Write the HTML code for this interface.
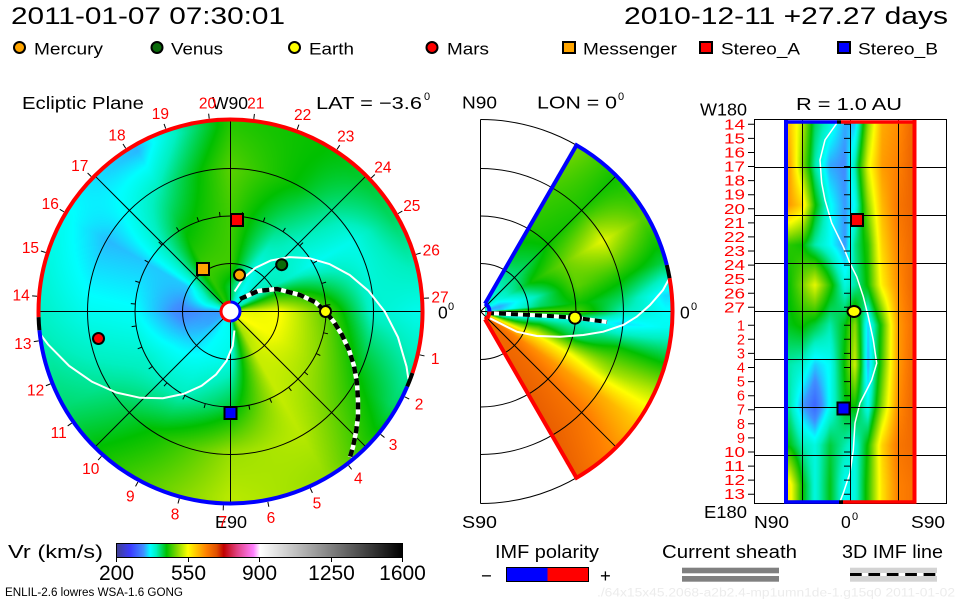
<!DOCTYPE html>
<html><head><meta charset="utf-8"><style>
html,body{margin:0;padding:0;background:#fff}
#w{position:relative;width:960px;height:600px;overflow:hidden;background:#fff}
#w svg,#w canvas{position:absolute;left:0;top:0}
</style></head><body><div id="w">
<svg width="960" height="600" xmlns="http://www.w3.org/2000/svg">
<defs>
<linearGradient id="wg" x1="0" y1="0" x2="0" y2="1"><stop offset="0" stop-color="#40c800"/><stop offset="0.4" stop-color="#60d000"/><stop offset="0.5" stop-color="#20f0d0"/><stop offset="0.6" stop-color="#40d000"/><stop offset="0.75" stop-color="#ffa000"/><stop offset="1" stop-color="#e04800"/></linearGradient>
<linearGradient id="rg" x1="0" y1="0" x2="1" y2="0"><stop offset="0" stop-color="#a0d000"/><stop offset="0.4" stop-color="#20e8c0"/><stop offset="0.6" stop-color="#30d080"/><stop offset="0.8" stop-color="#ffa000"/><stop offset="1" stop-color="#e05000"/></linearGradient>
</defs>
<circle cx="230.5" cy="311.5" r="192" fill="#30e0b0"/>
<path d="M485,303.7 L576.5,145.2 A192 192 0 0 1 576.5,477.8 L485,319.3 Z" fill="url(#wg)"/>
<rect x="786" y="121" width="128" height="381" fill="url(#rg)"/>
</svg>
<canvas id="cv" width="960" height="600"></canvas>
<svg width="960" height="600" xmlns="http://www.w3.org/2000/svg" font-family="'Liberation Sans', sans-serif">
<defs>
<linearGradient id="cb" x1="0" y1="0" x2="1" y2="0">
<stop offset="0" stop-color="#404090"/><stop offset="0.0486" stop-color="#3c3cff"/><stop offset="0.095" stop-color="#4090ff"/><stop offset="0.1186" stop-color="#00ffff"/><stop offset="0.139" stop-color="#00f0c0"/><stop offset="0.175" stop-color="#00c000"/><stop offset="0.211" stop-color="#80d800"/><stop offset="0.25" stop-color="#ffff00"/><stop offset="0.282" stop-color="#ffc000"/><stop offset="0.314" stop-color="#ff8000"/><stop offset="0.35" stop-color="#e05000"/><stop offset="0.375" stop-color="#c00000"/><stop offset="0.421" stop-color="#e04080"/><stop offset="0.479" stop-color="#ff80ff"/><stop offset="0.502" stop-color="#ffffff"/><stop offset="1" stop-color="#000000"/>
</linearGradient>
</defs>

<!-- Titles -->
<text x="11" y="24" font-size="24" textLength="274" lengthAdjust="spacingAndGlyphs">2011-01-07 07:30:01</text>
<text x="624" y="24" font-size="24" textLength="324" lengthAdjust="spacingAndGlyphs">2010-12-11 +27.27 days</text>

<!-- Legend -->
<g stroke="#000" stroke-width="2">
<circle cx="19.5" cy="47.5" r="5.5" fill="#ffa500"/>
<circle cx="157" cy="47.5" r="5.5" fill="#0a6a0a"/>
<circle cx="294.5" cy="47.5" r="5.5" fill="#ffff00"/>
<circle cx="432" cy="47.5" r="5.5" fill="#ff0000"/>
<rect x="563" y="42" width="12" height="11" fill="#ffa500"/>
<rect x="700" y="42" width="12" height="11" fill="#ff0000"/>
<rect x="838" y="42" width="12" height="11" fill="#0000ff"/>
</g>
<g font-size="17">
<text x="34" y="54.3" textLength="69" lengthAdjust="spacingAndGlyphs">Mercury</text>
<text x="171" y="54.3" textLength="52" lengthAdjust="spacingAndGlyphs">Venus</text>
<text x="309" y="54.3" textLength="45" lengthAdjust="spacingAndGlyphs">Earth</text>
<text x="447" y="54.3" textLength="42" lengthAdjust="spacingAndGlyphs">Mars</text>
<text x="583" y="54.3" textLength="94" lengthAdjust="spacingAndGlyphs">Messenger</text>
<text x="721" y="54.3" textLength="79" lengthAdjust="spacingAndGlyphs">Stereo_A</text>
<text x="858" y="54.3" textLength="80" lengthAdjust="spacingAndGlyphs">Stereo_B</text>
</g>

<!-- Panel headings -->
<g font-size="17.5">
<text x="22" y="109" textLength="122" lengthAdjust="spacingAndGlyphs">Ecliptic Plane</text>
<text x="212" y="109" textLength="36" lengthAdjust="spacingAndGlyphs">W90</text>
<text x="316" y="109" textLength="106" lengthAdjust="spacingAndGlyphs">LAT = −3.6</text>
<text x="462" y="108.5" textLength="35" lengthAdjust="spacingAndGlyphs">N90</text>
<text x="537" y="108.5" textLength="80" lengthAdjust="spacingAndGlyphs">LON = 0</text>
<text x="700" y="115.5" textLength="47" lengthAdjust="spacingAndGlyphs">W180</text>
<text x="796" y="110" textLength="106" lengthAdjust="spacingAndGlyphs">R = 1.0 AU</text>
<text x="215" y="528" textLength="32" lengthAdjust="spacingAndGlyphs">E90</text>
<text x="462" y="528" textLength="35" lengthAdjust="spacingAndGlyphs">S90</text>
<text x="704" y="518" textLength="43" lengthAdjust="spacingAndGlyphs">E180</text>
<text x="754" y="528" textLength="35" lengthAdjust="spacingAndGlyphs">N90</text>
<text x="841" y="528">0</text>
<text x="911" y="528" textLength="34" lengthAdjust="spacingAndGlyphs">S90</text>
<text x="438" y="318.5">0</text>
<text x="680" y="318.5">0</text>
</g>
<g font-size="11">
<text x="424" y="100">0</text>
<text x="618" y="100">0</text>
<text x="852" y="520">0</text>
<text x="448" y="310">0</text>
<text x="691" y="310">0</text>
</g>

<!-- LEFT PANEL grid -->
<g stroke="#000" stroke-width="1" fill="none">
<circle cx="230.5" cy="311.5" r="48"/>
<circle cx="230.5" cy="311.5" r="95.5"/>
<circle cx="230.5" cy="311.5" r="143"/>
<line x1="38" y1="311.5" x2="423" y2="311.5"/>
<line x1="230.5" y1="119" x2="230.5" y2="504"/>
<line x1="94.7" y1="175.7" x2="366.3" y2="447.3"/>
<line x1="94.7" y1="447.3" x2="366.3" y2="175.7"/>
</g>
<!-- current sheet (white) -->
<g stroke="#fff" stroke-width="2" fill="none">
<polyline points="234.6,291.5 243.1,278.5 255.4,267.9 270.9,260.5 289.1,257.1 308.9,258.1 329.4,264 349.7,275 368.6,291 385,311.9 398,337.3 406.5,366.5 408.4,379.1"/>
<polyline points="234.4,330.5 232.7,345.9 226.5,360.9 216,374.5 201.6,385.8 183.6,393.9 162.9,398.2 140.1,397.8 116.2,392.5 92.1,381.8 69.1,365.8 48,344.4 40.4,334.3"/>
</g>
<!-- IMF line -->
<polyline points="240,299 258,291 277,289 300,295 315,302 325,311 334,322 342,335 349,350 354,366 357,383 358,400 358,417 356,432 353,447 350,457" fill="none" stroke="#fff" stroke-width="4.5"/>
<polyline points="240,299 258,291 277,289 300,295 315,302 325,311 334,322 342,335 349,350 354,366 357,383 358,400 358,417 356,432 353,447 350,457" fill="none" stroke="#000" stroke-width="4.5" stroke-dasharray="7 5"/>
<!-- ticks -->
<g transform="translate(230.5,311.5)" stroke="#000" stroke-width="1">
<line x1="95.5" y1="0" x2="100" y2="0" transform="rotate(12.9)"/><line x1="194" y1="0" x2="199" y2="0" transform="rotate(12.9)"/>
<line x1="95.5" y1="0" x2="100" y2="0" transform="rotate(26.1)"/><line x1="194" y1="0" x2="199" y2="0" transform="rotate(26.1)"/>
<line x1="95.5" y1="0" x2="100" y2="0" transform="rotate(39.3)"/><line x1="194" y1="0" x2="199" y2="0" transform="rotate(39.3)"/>
<line x1="95.5" y1="0" x2="100" y2="0" transform="rotate(52.5)"/><line x1="194" y1="0" x2="199" y2="0" transform="rotate(52.5)"/>
<line x1="95.5" y1="0" x2="100" y2="0" transform="rotate(65.7)"/><line x1="194" y1="0" x2="199" y2="0" transform="rotate(65.7)"/>
<line x1="95.5" y1="0" x2="100" y2="0" transform="rotate(78.9)"/><line x1="194" y1="0" x2="199" y2="0" transform="rotate(78.9)"/>
<line x1="95.5" y1="0" x2="100" y2="0" transform="rotate(92.1)"/><line x1="194" y1="0" x2="199" y2="0" transform="rotate(92.1)"/>
<line x1="95.5" y1="0" x2="100" y2="0" transform="rotate(105.3)"/><line x1="194" y1="0" x2="199" y2="0" transform="rotate(105.3)"/>
<line x1="95.5" y1="0" x2="100" y2="0" transform="rotate(118.5)"/><line x1="194" y1="0" x2="199" y2="0" transform="rotate(118.5)"/>
<line x1="95.5" y1="0" x2="100" y2="0" transform="rotate(131.7)"/><line x1="194" y1="0" x2="199" y2="0" transform="rotate(131.7)"/>
<line x1="95.5" y1="0" x2="100" y2="0" transform="rotate(144.9)"/><line x1="194" y1="0" x2="199" y2="0" transform="rotate(144.9)"/>
<line x1="95.5" y1="0" x2="100" y2="0" transform="rotate(158.1)"/><line x1="194" y1="0" x2="199" y2="0" transform="rotate(158.1)"/>
<line x1="95.5" y1="0" x2="100" y2="0" transform="rotate(171.3)"/><line x1="194" y1="0" x2="199" y2="0" transform="rotate(171.3)"/>
<line x1="95.5" y1="0" x2="100" y2="0" transform="rotate(184.5)"/><line x1="194" y1="0" x2="199" y2="0" transform="rotate(184.5)"/>
<line x1="95.5" y1="0" x2="100" y2="0" transform="rotate(197.7)"/><line x1="194" y1="0" x2="199" y2="0" transform="rotate(197.7)"/>
<line x1="95.5" y1="0" x2="100" y2="0" transform="rotate(210.9)"/><line x1="194" y1="0" x2="199" y2="0" transform="rotate(210.9)"/>
<line x1="95.5" y1="0" x2="100" y2="0" transform="rotate(224.1)"/><line x1="194" y1="0" x2="199" y2="0" transform="rotate(224.1)"/>
<line x1="95.5" y1="0" x2="100" y2="0" transform="rotate(237.3)"/><line x1="194" y1="0" x2="199" y2="0" transform="rotate(237.3)"/>
<line x1="95.5" y1="0" x2="100" y2="0" transform="rotate(250.5)"/><line x1="194" y1="0" x2="199" y2="0" transform="rotate(250.5)"/>
<line x1="95.5" y1="0" x2="100" y2="0" transform="rotate(263.7)"/><line x1="194" y1="0" x2="199" y2="0" transform="rotate(263.7)"/>
<line x1="95.5" y1="0" x2="100" y2="0" transform="rotate(276.9)"/><line x1="194" y1="0" x2="199" y2="0" transform="rotate(276.9)"/>
<line x1="95.5" y1="0" x2="100" y2="0" transform="rotate(290.1)"/><line x1="194" y1="0" x2="199" y2="0" transform="rotate(290.1)"/>
<line x1="95.5" y1="0" x2="100" y2="0" transform="rotate(303.3)"/><line x1="194" y1="0" x2="199" y2="0" transform="rotate(303.3)"/>
<line x1="95.5" y1="0" x2="100" y2="0" transform="rotate(316.5)"/><line x1="194" y1="0" x2="199" y2="0" transform="rotate(316.5)"/>
<line x1="95.5" y1="0" x2="100" y2="0" transform="rotate(329.7)"/><line x1="194" y1="0" x2="199" y2="0" transform="rotate(329.7)"/>
<line x1="95.5" y1="0" x2="100" y2="0" transform="rotate(342.9)"/><line x1="194" y1="0" x2="199" y2="0" transform="rotate(342.9)"/>
<line x1="95.5" y1="0" x2="100" y2="0" transform="rotate(356.1)"/><line x1="194" y1="0" x2="199" y2="0" transform="rotate(356.1)"/>
</g>
<!-- outer border -->
<g fill="none" stroke-width="4">
<path d="M38.6,317.2 A192 192 0 1 1 412.4,373.1" stroke="#ff0000"/>
<path d="M412.4,373.1 A192 192 0 0 1 407.2,386.5" stroke="#000"/>
<path d="M407.2,386.5 A192 192 0 0 1 39.4,330.2" stroke="#0000ff"/>
<path d="M39.4,330.2 A192 192 0 0 1 38.6,317.2" stroke="#000"/>
</g>
<!-- sun -->
<circle cx="230.5" cy="311.5" r="9.5" fill="#fff"/>
<path d="M230.5,302 A9.5 9.5 0 0 0 230.5,321" fill="none" stroke="#ff0000" stroke-width="3"/>
<path d="M230.5,302 A9.5 9.5 0 0 1 230.5,321" fill="none" stroke="#0000ff" stroke-width="3"/>
<!-- bodies -->
<g stroke="#000" stroke-width="2">
<rect x="231" y="214" width="12" height="12" fill="#ff0000"/>
<rect x="197" y="263" width="12" height="12" fill="#ffa500"/>
<circle cx="239.5" cy="275" r="5.5" fill="#ffa500"/>
<circle cx="281.7" cy="264.7" r="5.5" fill="#0a6a0a"/>
<circle cx="325.5" cy="311.5" r="5.5" fill="#ffff00"/>
<circle cx="98.5" cy="338.5" r="5.5" fill="#ff0000"/>
<rect x="224.5" y="407" width="12" height="12" fill="#0000ff"/>
</g>
<!-- day labels -->
<g transform="translate(230.5,311.5)" font-size="15.5" fill="#ff0000" text-anchor="middle">
<text transform="rotate(12.9) translate(210,0) rotate(-12.9)" dy="5.5">1</text>
<text transform="rotate(26.1) translate(210,0) rotate(-26.1)" dy="5.5">2</text>
<text transform="rotate(39.3) translate(210,0) rotate(-39.3)" dy="5.5">3</text>
<text transform="rotate(52.5) translate(210,0) rotate(-52.5)" dy="5.5">4</text>
<text transform="rotate(65.7) translate(210,0) rotate(-65.7)" dy="5.5">5</text>
<text transform="rotate(78.9) translate(210,0) rotate(-78.9)" dy="5.5">6</text>
<text transform="rotate(92.1) translate(210,0) rotate(-92.1)" dy="5.5">7</text>
<text transform="rotate(105.3) translate(210,0) rotate(-105.3)" dy="5.5">8</text>
<text transform="rotate(118.5) translate(210,0) rotate(-118.5)" dy="5.5">9</text>
<text transform="rotate(131.7) translate(210,0) rotate(-131.7)" dy="5.5">10</text>
<text transform="rotate(144.9) translate(210,0) rotate(-144.9)" dy="5.5">11</text>
<text transform="rotate(158.1) translate(210,0) rotate(-158.1)" dy="5.5">12</text>
<text transform="rotate(171.3) translate(210,0) rotate(-171.3)" dy="5.5">13</text>
<text transform="rotate(184.5) translate(210,0) rotate(-184.5)" dy="5.5">14</text>
<text transform="rotate(197.7) translate(210,0) rotate(-197.7)" dy="5.5">15</text>
<text transform="rotate(210.9) translate(210,0) rotate(-210.9)" dy="5.5">16</text>
<text transform="rotate(224.1) translate(210,0) rotate(-224.1)" dy="5.5">17</text>
<text transform="rotate(237.3) translate(210,0) rotate(-237.3)" dy="5.5">18</text>
<text transform="rotate(250.5) translate(210,0) rotate(-250.5)" dy="5.5">19</text>
<text transform="rotate(263.7) translate(210,0) rotate(-263.7)" dy="5.5">20</text>
<text transform="rotate(276.9) translate(210,0) rotate(-276.9)" dy="5.5">21</text>
<text transform="rotate(290.1) translate(210,0) rotate(-290.1)" dy="5.5">22</text>
<text transform="rotate(303.3) translate(210,0) rotate(-303.3)" dy="5.5">23</text>
<text transform="rotate(316.5) translate(210,0) rotate(-316.5)" dy="5.5">24</text>
<text transform="rotate(329.7) translate(210,0) rotate(-329.7)" dy="5.5">25</text>
<text transform="rotate(342.9) translate(210,0) rotate(-342.9)" dy="5.5">26</text>
<text transform="rotate(356.1) translate(210,0) rotate(-356.1)" dy="5.5">27</text>
</g>

<!-- MIDDLE PANEL -->
<g stroke="#000" stroke-width="1" fill="none">
<path d="M480.5,263.5 A48 48 0 0 1 480.5,359.5"/>
<path d="M480.5,216 A95.5 95.5 0 0 1 480.5,407"/>
<path d="M480.5,168.5 A143 143 0 0 1 480.5,454.5"/>
<path d="M480.5,119.5 A192 192 0 0 1 480.5,503.5"/>
<line x1="480.5" y1="119.5" x2="480.5" y2="503.5"/>
<line x1="480.5" y1="311.5" x2="672.5" y2="311.5"/>
<line x1="480.5" y1="311.5" x2="616.3" y2="175.7"/>
<line x1="480.5" y1="311.5" x2="616.3" y2="447.3"/>
</g>
<polyline points="669.3,278.3 663,290 650,305 636.7,316.7 623.3,325 603.3,331.7 583.3,335 560,336.7 536.7,336 516.7,331.7 500,323.3 490,318.3" fill="none" stroke="#fff" stroke-width="2"/>
<polyline points="487,313 520,314.5 550,316 575,317.7 592,320 607,322" fill="none" stroke="#fff" stroke-width="4"/>
<polyline points="487,313 520,314.5 550,316 575,317.7 592,320 607,322" fill="none" stroke="#000" stroke-width="4" stroke-dasharray="7 5"/>
<g fill="none" stroke-width="4">
<path d="M485,303.7 L576.5,145.2 A192 192 0 0 1 666.8,265.05" stroke="#0000ff"/>
<path d="M666.8,265.05 A192 192 0 0 1 669.6,278.2" stroke="#000"/>
<path d="M669.6,278.2 A192 192 0 0 1 576.5,477.8 L485,319.3" stroke="#ff0000"/>
<path d="M485,303.7 A9 9 0 0 1 489.5,311.5" stroke="#0000ff"/>
<path d="M489.5,311.5 A9 9 0 0 1 485,319.3" stroke="#ff0000"/>
</g>
<circle cx="575" cy="317.7" r="6" fill="#ffff00" stroke="#000" stroke-width="2"/>

<!-- RIGHT PANEL -->
<polyline points="836.7,123.3 825,140 820,160 821.7,183 825,200 831.7,223 843.3,246.7 850,263.3 856.7,276.7 863.3,296.7 868.3,316.7 873.3,340 876.7,363.3 871.7,380 866.7,390 860,403 855,423 853.3,450 850,473 843.3,493 840,501.7" fill="none" stroke="#fff" stroke-width="1.5"/>
<g stroke="#000" stroke-width="1" fill="none">
<rect x="754.5" y="119.5" width="192" height="384"/>
<line x1="802.5" y1="119.5" x2="802.5" y2="503.5"/>
<line x1="850.5" y1="119.5" x2="850.5" y2="503.5"/>
<line x1="898.5" y1="119.5" x2="898.5" y2="503.5"/>
<line x1="754.5" y1="167.5" x2="946.5" y2="167.5"/>
<line x1="754.5" y1="215.5" x2="946.5" y2="215.5"/>
<line x1="754.5" y1="263.5" x2="946.5" y2="263.5"/>
<line x1="754.5" y1="311.5" x2="946.5" y2="311.5"/>
<line x1="754.5" y1="359.5" x2="946.5" y2="359.5"/>
<line x1="754.5" y1="407.5" x2="946.5" y2="407.5"/>
<line x1="754.5" y1="455.5" x2="946.5" y2="455.5"/>
</g>
<g stroke="#000" stroke-width="1">
<path d="M748,124.3h6M748,138.4h6M748,152.5h6M748,166.5h6M748,180.6h6M748,194.7h6M748,208.8h6M748,222.9h6M748,236.9h6M748,251h6M748,265.1h6M748,279.2h6M748,293.3h6M748,307.3h6M748,325.3h6M748,339.3h6M748,353.4h6M748,367.5h6M748,381.6h6M748,395.7h6M748,409.7h6M748,423.8h6M748,437.9h6M748,452h6M748,466.1h6M748,480.1h6M748,494.2h6"/>
<path d="M844,124.3h7M844,138.4h7M844,152.5h7M844,166.5h7M844,180.6h7M844,194.7h7M844,208.8h7M844,222.9h7M844,236.9h7M844,251h7M844,265.1h7M844,279.2h7M844,293.3h7M844,307.3h7M844,325.3h7M844,339.3h7M844,353.4h7M844,367.5h7M844,381.6h7M844,395.7h7M844,409.7h7M844,423.8h7M844,437.9h7M844,452h7M844,466.1h7M844,480.1h7M844,494.2h7"/>
</g>
<g fill="none">
<line x1="786" y1="120" x2="786" y2="503.5" stroke="#0000ff" stroke-width="4"/>
<line x1="914.5" y1="120" x2="914.5" y2="503.5" stroke="#ff0000" stroke-width="4"/>
<line x1="784" y1="122" x2="837" y2="122" stroke="#0000ff" stroke-width="3.5"/>
<line x1="837" y1="122" x2="841" y2="122" stroke="#000" stroke-width="3.5"/>
<line x1="841" y1="122" x2="916.5" y2="122" stroke="#ff0000" stroke-width="3.5"/>
<line x1="784" y1="502" x2="839" y2="502" stroke="#0000ff" stroke-width="3.5"/>
<line x1="839" y1="502" x2="843" y2="502" stroke="#000" stroke-width="3.5"/>
<line x1="843" y1="502" x2="916.5" y2="502" stroke="#ff0000" stroke-width="3.5"/>
</g>
<g stroke="#000" stroke-width="2">
<rect x="851" y="214" width="12" height="12" fill="#ff0000"/>
<ellipse cx="854" cy="311.5" rx="6.5" ry="5.5" fill="#ffff00"/>
<rect x="837.5" y="402.5" width="12" height="12" fill="#0000ff"/>
</g>
<g font-size="14.5" fill="#ff0000" text-anchor="end">
<text x="745" y="129.3" textLength="21" lengthAdjust="spacingAndGlyphs">14</text>
<text x="745" y="143.4" textLength="21" lengthAdjust="spacingAndGlyphs">15</text>
<text x="745" y="157.5" textLength="21" lengthAdjust="spacingAndGlyphs">16</text>
<text x="745" y="171.5" textLength="21" lengthAdjust="spacingAndGlyphs">17</text>
<text x="745" y="185.6" textLength="21" lengthAdjust="spacingAndGlyphs">18</text>
<text x="745" y="199.7" textLength="21" lengthAdjust="spacingAndGlyphs">19</text>
<text x="745" y="213.8" textLength="21" lengthAdjust="spacingAndGlyphs">20</text>
<text x="745" y="227.9" textLength="21" lengthAdjust="spacingAndGlyphs">21</text>
<text x="745" y="241.9" textLength="21" lengthAdjust="spacingAndGlyphs">22</text>
<text x="745" y="256" textLength="21" lengthAdjust="spacingAndGlyphs">23</text>
<text x="745" y="270.1" textLength="21" lengthAdjust="spacingAndGlyphs">24</text>
<text x="745" y="284.2" textLength="21" lengthAdjust="spacingAndGlyphs">25</text>
<text x="745" y="298.3" textLength="21" lengthAdjust="spacingAndGlyphs">26</text>
<text x="745" y="312.3" textLength="21" lengthAdjust="spacingAndGlyphs">27</text>
<text x="745" y="330.3">1</text>
<text x="745" y="344.3">2</text>
<text x="745" y="358.4">3</text>
<text x="745" y="372.5">4</text>
<text x="745" y="386.6">5</text>
<text x="745" y="400.7">6</text>
<text x="745" y="414.7">7</text>
<text x="745" y="428.8">8</text>
<text x="745" y="442.9">9</text>
<text x="745" y="457" textLength="21" lengthAdjust="spacingAndGlyphs">10</text>
<text x="745" y="471.1" textLength="21" lengthAdjust="spacingAndGlyphs">11</text>
<text x="745" y="485.1" textLength="21" lengthAdjust="spacingAndGlyphs">12</text>
<text x="745" y="499.2" textLength="21" lengthAdjust="spacingAndGlyphs">13</text>
</g>

<!-- BOTTOM -->
<text x="8" y="558" font-size="18.5" textLength="95" lengthAdjust="spacingAndGlyphs">Vr (km/s)</text>
<rect x="116.5" y="543.5" width="286" height="14" fill="url(#cb)" stroke="#000" stroke-width="1"/>
<path d="M116.5,557.5v4.5M188.5,557.5v4.5M259.5,557.5v4.5M331.5,557.5v4.5M402.5,557.5v4.5" stroke="#000" stroke-width="1"/>
<g font-size="21" text-anchor="middle">
<text x="116.5" y="580">200</text>
<text x="188.5" y="580">550</text>
<text x="259.5" y="580">900</text>
<text x="331.5" y="580">1250</text>
<text x="402.5" y="580">1600</text>
</g>
<text x="5" y="596" font-size="11.5" textLength="178" lengthAdjust="spacingAndGlyphs">ENLIL-2.6 lowres WSA-1.6 GONG</text>

<g font-size="18.5">
<text x="495" y="558" textLength="104" lengthAdjust="spacingAndGlyphs">IMF polarity</text>
<text x="662" y="558" textLength="135" lengthAdjust="spacingAndGlyphs">Current sheath</text>
<text x="842" y="558" textLength="101" lengthAdjust="spacingAndGlyphs">3D IMF line</text>
<text x="481" y="582">−</text>
<text x="600" y="582">+</text>
</g>
<rect x="506.5" y="567.5" width="41" height="14" fill="#0000ff"/>
<rect x="547.5" y="567.5" width="41" height="14" fill="#ff0000"/>
<rect x="506.5" y="567.5" width="82" height="14" fill="none" stroke="#000" stroke-width="1"/>
<rect x="682" y="567.7" width="97" height="5.6" fill="#808080"/>
<rect x="682" y="576" width="97" height="5.7" fill="#808080"/>
<rect x="850" y="567.7" width="87" height="14" fill="#d3d3d3"/>
<line x1="850" y1="574.5" x2="937" y2="574.5" stroke="#fff" stroke-width="3"/>
<line x1="850" y1="574.5" x2="937" y2="574.5" stroke="#000" stroke-width="3" stroke-dasharray="11.7 6.7"/>
<text x="597" y="596.5" font-size="11.5" fill="#ececec" textLength="358" lengthAdjust="spacingAndGlyphs">./64x15x45.2068-a2b2.4-mp1umn1de-1.g15q0   2011-01-02</text>
</svg>
</div>
<script>
(function(){
var S=[[200,64,64,144],[268,60,60,255],[333,64,144,255],[366,0,255,255],[395,0,240,192],[445,0,192,0],[495,128,216,0],[550,255,255,0],[595,255,192,0],[640,255,128,0],[690,224,80,0],[725,192,0,0],[790,224,64,128],[870,255,128,255],[903,255,255,255],[1600,0,0,0]];
function cm(v){
 if(v<=S[0][0])return [S[0][1],S[0][2],S[0][3]];
 for(var i=0;i<S.length-1;i++){if(v<=S[i+1][0]){var a=S[i],b=S[i+1],t=(v-a[0])/(b[0]-a[0]);return [a[1]+(b[1]-a[1])*t,a[2]+(b[2]-a[2])*t,a[3]+(b[3]-a[3])*t];}}
 return [0,0,0];
}
function ix(a,x){var n=a.length;if(x<=a[0])return [0,0];if(x>=a[n-1])return [n-2,1];for(var i=0;i<n-1;i++){if(x<=a[i+1])return [i,(x-a[i])/(a[i+1]-a[i])];}return [n-2,1];}
var cv=document.getElementById('cv');if(!cv||!cv.getContext)return;
var ctx=cv.getContext('2d'),im=ctx.createImageData(960,600),D=im.data;
function put(x,y,v){var c=cm(v),k=(y*960+x)*4;D[k]=c[0];D[k+1]=c[1];D[k+2]=c[2];D[k+3]=255;}
// LEFT
var LR=[25,50,95,140,185];
var LG=[
[540,400,370,430,460,400,335,340,365,372,510,550],
[550,400,380,470,470,350,325,350,368,380,525,545],
[480,372,410,470,440,350,368,390,395,430,525,505],
[390,375,440,480,400,345,372,405,450,505,520,455],
[375,420,445,460,345,368,390,415,470,520,505,420]];
for(var y=116;y<508;y++)for(var x=34;x<428;x++){
 var dx=x+0.5-230.5,dy=y+0.5-311.5,r=Math.sqrt(dx*dx+dy*dy);if(r>192.5)continue;
 var th=Math.atan2(-dy,dx)*180/Math.PI;if(th<0)th+=360;
 var f=th/30,fl=Math.floor(f),ti=fl%12,tt=f-fl,tj=(ti+1)%12;
 var q=ix(LR,r),ri=q[0],rt=q[1];
 var a=LG[ri][ti]*(1-tt)+LG[ri][tj]*tt,b=LG[ri+1][ti]*(1-tt)+LG[ri+1][tj]*tt;
 put(x,y,a+(b-a)*rt);
}
// MIDDLE
var ML=[-60,-45,-35,-25,-15,-5,0,5,15,30,45,60],MR=[20,60,100,140,185];
var MG=[
[660,670,675,675,670],
[665,660,655,650,630],
[650,630,620,610,590],
[560,570,545,510,520],
[420,470,420,450,440],
[345,375,390,355,372],
[500,480,470,400,368],
[350,420,450,420,355],
[340,400,480,460,430],
[370,450,490,540,480],
[390,420,450,455,450],
[380,430,460,470,490]];
for(var y=116;y<508;y++)for(var x=479;x<678;x++){
 var dx=x+0.5-480.5,dy=y+0.5-311.5,r=Math.sqrt(dx*dx+dy*dy);if(r>192.5||r<8)continue;
 var lat=Math.atan2(-dy,dx)*180/Math.PI;if(lat>60.5||lat<-60.5)continue;
 var q=ix(ML,lat),p=ix(MR,r),li=q[0],lt=q[1],rj=p[0],rt=p[1];
 var a=MG[li][rj]*(1-rt)+MG[li][rj+1]*rt,b=MG[li+1][rj]*(1-rt)+MG[li+1][rj+1]*rt;
 put(x,y,a+(b-a)*lt);
}
// RIGHT
var RX=[790,802,815,830,845,855,868,882,898,910],RY=[125,165,205,245,285,325,365,405,445,485];
var RG=[
[590,520,420,380,340,350,500,610,630,660],
[610,500,400,340,330,400,540,620,640,665],
[620,580,450,370,335,370,500,600,650,665],
[460,450,400,370,335,410,460,580,640,660],
[450,490,540,460,380,400,450,560,630,660],
[440,450,430,400,440,500,350,460,620,650],
[400,390,350,370,450,530,340,470,620,655],
[400,340,300,370,440,450,370,500,630,660],
[440,400,380,430,400,380,450,580,650,660],
[560,450,380,440,370,380,460,570,640,650]];
for(var y=121;y<502;y++)for(var x=786;x<914;x++){
 var q=ix(RY,y+0.5),p=ix(RX,x+0.5),yi=q[0],yt=q[1],xj=p[0],xt=p[1];
 var a=RG[yi][xj]*(1-xt)+RG[yi][xj+1]*xt,b=RG[yi+1][xj]*(1-xt)+RG[yi+1][xj+1]*xt;
 put(x,y,a+(b-a)*yt);
}
ctx.putImageData(im,0,0);
})();
</script>
</body></html>
